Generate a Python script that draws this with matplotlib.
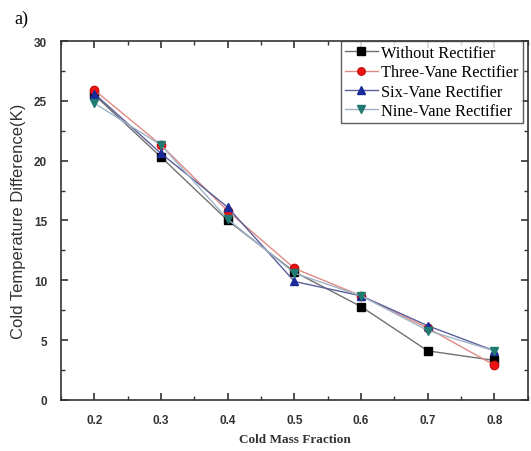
import matplotlib
matplotlib.use("Agg")
import matplotlib.pyplot as plt
from matplotlib.ticker import MultipleLocator

# Cold mass fraction and cold temperature difference (K) for each configuration
cold_mass_fraction = [0.2, 0.3, 0.4, 0.5, 0.6, 0.7, 0.8]
without_rectifier = [25.5, 20.3, 15.0, 10.7, 7.8, 4.1, 3.3]
three_vane = [25.9, 21.3, 15.8, 11.0, 8.7, 6.0, 2.9]
six_vane = [25.6, 20.6, 16.1, 9.9, 8.7, 6.2, 4.1]
nine_vane = [24.8, 21.3, 15.1, 10.6, 8.7, 5.8, 4.1]

series_labels = ["Without Rectifier", "Three-Vane Rectifier",
                 "Six-Vane Rectifier", "Nine-Vane Rectifier"]

fig = plt.figure(figsize=(5.31, 4.52), dpi=100)
ax = fig.add_axes([0.115, 0.113, 0.879, 0.794])

styles = [
    dict(color="#707070", marker="s", mfc="black", mec="black"),
    dict(color="#e08a84", marker="o", mfc="#ee1111", mec="#cc1111"),
    dict(color="#5a5f9a", marker="^", mfc="#1a2a9a", mec="#1a2a9a"),
    dict(color="#9fb4c8", marker="v", mfc="#1f7a72", mec="#1f7a72"),
]
for ys, lab, st in zip([without_rectifier, three_vane, six_vane, nine_vane],
                       series_labels, styles):
    ax.plot(cold_mass_fraction, ys, color=st["color"], lw=1.0,
            marker=st["marker"], ms=6, mfc=st["mfc"], mec=st["mec"],
            label=lab)

ax.set_xlim(0.15, 0.85)
ax.set_ylim(0, 30)
ax.xaxis.set_major_locator(MultipleLocator(0.1))
ax.xaxis.set_minor_locator(MultipleLocator(0.05))
ax.yaxis.set_major_locator(MultipleLocator(5))
ax.yaxis.set_minor_locator(MultipleLocator(2.5))
ax.set_xticks(cold_mass_fraction)
ax.set_xticklabels([f"{v:.1f}" for v in cold_mass_fraction])
ax.tick_params(which="both", direction="in", top=True, right=True,
               colors="#333333")
ax.tick_params(which="major", length=5, width=1.2, labelsize=8.5)
ax.tick_params(axis="x", which="major", pad=10)
ax.tick_params(axis="y", which="major", pad=10)
ax.tick_params(which="minor", length=3, width=1.0)
for lbl in ax.get_xticklabels() + ax.get_yticklabels():
    lbl.set_fontweight("bold")
    lbl.set_fontfamily("Liberation Sans")
    lbl.set_color("#333333")
for sp in ax.spines.values():
    sp.set_color("#333333")
    sp.set_linewidth(1.2)

ax.set_xlabel("Cold Mass Fraction", fontfamily="Liberation Serif",
              fontweight="bold", fontsize=9.5, color="#333333", labelpad=5)
ax.set_ylabel("Cold Temperature Difference(K)", fontfamily="Liberation Sans",
              fontsize=12, color="#333333", labelpad=6)

leg = ax.legend(loc="upper left", bbox_to_anchor=(341 / 531, 0.907),
                bbox_transform=fig.transFigure,
                prop=dict(family="Liberation Serif", size=11.8),
                frameon=True, fancybox=False, edgecolor="#333333",
                borderpad=0.25, labelspacing=0.2, handlelength=2.0,
                handletextpad=0.2, borderaxespad=0, markerscale=0.9)
leg.get_frame().set_linewidth(1.0)

fig.text(0.028, 0.958, "a)", fontfamily="Liberation Serif", fontsize=13,
         va="center", ha="left")

fig.savefig("out.png", dpi=100)
